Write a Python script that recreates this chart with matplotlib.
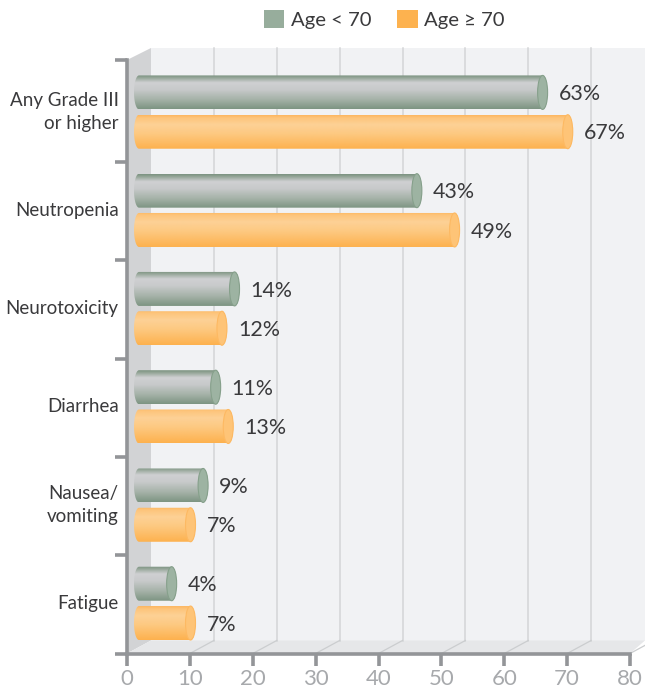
import numpy as np
import matplotlib
matplotlib.use("Agg")
import matplotlib.pyplot as plt
from matplotlib.colors import LinearSegmentedColormap
from matplotlib.patches import Ellipse, Patch, Polygon

categories = ["Any Grade III\nor higher", "Neutropenia", "Neurotoxicity",
              "Diarrhea", "Nausea/\nvomiting", "Fatigue"]
under70 = [63, 43, 14, 11, 9, 4]
over70 = [67, 49, 12, 13, 7, 7]
series_names = ["Age < 70", "Age \u2265 70"]
xticks = [0, 10, 20, 30, 40, 50, 60, 70, 80]

plt.rcParams["font.family"] = ["Lato", "DejaVu Sans"]
W, H = 645, 689
fig = plt.figure(figsize=(W / 100, H / 100), dpi=100)
L, R, T, B = 127, 630, 60, 653.5
ax = fig.add_axes([L / W, 1 - B / H, (R - L) / W, (B - T) / H])
ax.set_xlim(0, 80)
ax.set_ylim(6, -0.04)
ax.patch.set_alpha(0)

ux = (R - L) / 80      # px per x unit
uy = (B - T) / 6.04    # px per row
dx = 24 / ux           # 3-D depth, x
dy = 13 / uy           # 3-D depth, y
x_end = 80 + (W - R) / ux
top = -0.04 - 12 / uy

# walls
ax.add_patch(Polygon([(dx, top), (x_end, top), (x_end, 6 - dy), (dx, 6 - dy)],
                     fc="#f1f2f4", ec="none", clip_on=False, zorder=0.1))
ax.add_patch(Polygon([(0, -0.04), (dx, top), (dx, 6 - dy), (0, 6)],
                     fc="#d2d3d5", ec="none", clip_on=False, zorder=0.2))
ax.add_patch(Polygon([(0, 6), (dx, 6 - dy), (x_end, 6 - dy), (80, 6)],
                     fc="#e6e7e9", ec="none", clip_on=False, zorder=0.2))
for v in xticks[1:]:
    ax.plot([v + dx, v + dx], [top, 6 - dy], color="#d3d5d7", lw=1.1, zorder=0.3, clip_on=False)
    ax.plot([v, v + dx], [6, 6 - dy], color="#cbcdcf", lw=0.9, zorder=0.3, clip_on=False)

cm_green = LinearSegmentedColormap.from_list("g", [
    (0, "#7c9381"), (0.06, "#8fa192"), (0.22, "#cfd0d2"), (0.42, "#c8cacb"),
    (0.72, "#a5b2a8"), (1, "#7d9482")])
cm_orange = LinearSegmentedColormap.from_list("o", [
    (0, "#fdb65f"), (0.08, "#fdc57b"), (0.28, "#fdd196"), (0.55, "#fdc981"),
    (1, "#fdb14e")])
grad = np.linspace(0, 1, 128).reshape(-1, 1)

bar_h = 34 / uy
cap_w = 10 / ux
start = 12 / ux        # left end of the cylinder
depth = 19.5 / ux      # cap offset from the value on the axis
row_off = 0.2
group_shift = -1 / uy


def cylinder(v, yc, cmap, cap_fc, cap_ec):
    xr = v + depth
    t = np.linspace(np.pi / 2, 3 * np.pi / 2, 40)
    xs = np.r_[start + cap_w / 2 * np.cos(t), xr + cap_w / 2 * np.cos(t + np.pi)]
    ys = np.r_[yc - bar_h / 2 * np.sin(t), yc - bar_h / 2 * np.sin(t + np.pi)]
    im = ax.imshow(grad, cmap=cmap, aspect="auto", zorder=2,
                   extent=(start - cap_w, xr + cap_w, yc + bar_h / 2, yc - bar_h / 2),
                   interpolation="bilinear", clip_on=True)
    clip = Polygon(np.c_[xs, ys], transform=ax.transData, fc="none", ec="none")
    ax.add_patch(clip)
    im.set_clip_path(clip)
    ax.add_patch(Ellipse((xr, yc), cap_w, bar_h, fc=cap_fc, ec=cap_ec, lw=0.8, zorder=3))
    ax.annotate(f"{v}%", (xr, yc), xytext=(16 * 0.72, -1.2), textcoords="offset points",
                va="center", ha="left", fontsize=15.4, color="#3a3a3c", zorder=4,
                annotation_clip=False)


for k, (a, b) in enumerate(zip(under70, over70)):
    yc = k + 0.5 + group_shift
    cylinder(a, yc - row_off, cm_green, "#9db3a2", "#86a08b")
    cylinder(b, yc + row_off, cm_orange, "#fec477", "#fdb962")

ax.set_xlim(0, 80)
ax.set_ylim(6, -0.04)

for s in ("top", "right"):
    ax.spines[s].set_visible(False)
for s in ("left", "bottom"):
    ax.spines[s].set_color("#939598")
    ax.spines[s].set_linewidth(2.6)
    ax.spines[s].set_zorder(5)

ax.set_xticks(xticks)
ax.set_yticks([-0.04, 1, 2, 3, 4, 5, 6])
ax.set_yticklabels([])
ax.set_yticks(np.arange(6) + 0.5 + group_shift, labels=categories, minor=True)
ax.tick_params(axis="both", which="major", length=8.5, width=2.6, color="#939598")
ax.tick_params(axis="x", labelsize=16, labelcolor="#a7a9ac", pad=2.6)
ax.tick_params(axis="y", which="minor", length=0, labelsize=13.5, labelcolor="#3a3a3c", pad=6)
for lab in ax.get_yticklabels(minor=True):
    lab.set_linespacing(1.42)
    lab.set_verticalalignment("center")

handles = [Patch(fc="#97ad9c", ec="none"), Patch(fc="#fdb24f", ec="none")]
fig.legend(handles, series_names, loc="center", bbox_to_anchor=(384 / W, 1 - 19.5 / H),
           ncol=2, frameon=False, fontsize=14.6, labelcolor="#3a3a3c",
           handlelength=1.03, handleheight=1.0, handletextpad=0.3, columnspacing=1.28,
           borderpad=0, borderaxespad=0)

fig.savefig("out.png", dpi=100)
